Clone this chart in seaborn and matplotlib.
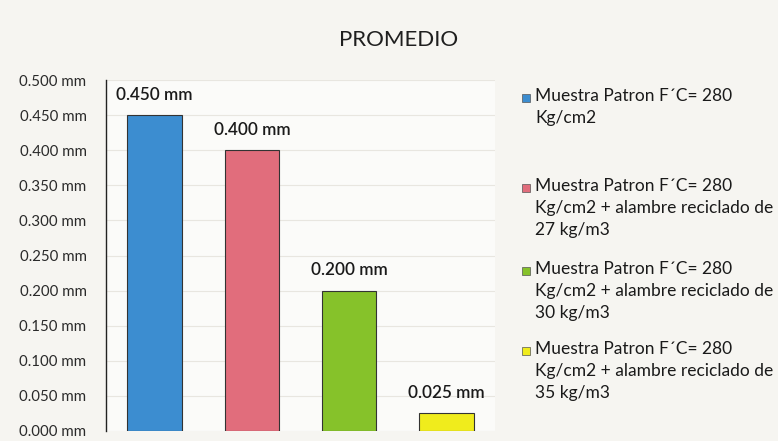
import matplotlib
matplotlib.use("Agg")
import matplotlib.pyplot as plt
import seaborn as sns
import pandas as pd
from matplotlib.patches import Rectangle

# Data
categories = ["Patron", "27 kg/m3", "30 kg/m3", "35 kg/m3"]
values = [0.450, 0.400, 0.200, 0.025]
series_labels = [
    "Muestra Patron F´C= 280\nKg/cm2",
    "Muestra Patron F´C= 280\nKg/cm2 + alambre reciclado de\n27 kg/m3",
    "Muestra Patron F´C= 280\nKg/cm2 + alambre reciclado de\n30 kg/m3",
    "Muestra Patron F´C= 280\nKg/cm2 + alambre reciclado de\n35 kg/m3",
]
colors = ["#3c8dd0", "#e16d7c", "#86c22a", "#f0ec1c"]
y_ticks = [0.0, 0.05, 0.10, 0.15, 0.20, 0.25, 0.30, 0.35, 0.40, 0.45, 0.50]

df = pd.DataFrame({"cat": categories, "val": values})

sns.set_theme(style="white")
plt.rcParams["font.family"] = ["Lato", "DejaVu Sans"]

W, H = 778, 441
fig = plt.figure(figsize=(W / 100, H / 100), dpi=100, facecolor="#f6f5f1")
ax = fig.add_axes([106 / W, 1 - 431 / H, (495 - 106) / W, (431 - 80) / H])
ax.set_facecolor("#fbfbf9")

sns.barplot(data=df, x="cat", y="val", hue="cat", palette=colors,
            saturation=1, width=0.56, edgecolor="#333333", linewidth=0.8,
            legend=False, ax=ax)

ax.set_ylim(0, 0.5)
ax.set_yticks(y_ticks)
ax.set_yticklabels([f"{t:.3f} mm" for t in y_ticks], fontsize=10.8, color="#2a2a2a")
ax.tick_params(axis="y", pad=14, length=0)
ax.set_xticks([])
ax.set_xlabel("")
ax.set_ylabel("")
ax.grid(axis="y", color="#e8e6e0", linewidth=0.8)
ax.set_axisbelow(True)
for s in ["top", "right", "bottom"]:
    ax.spines[s].set_visible(False)
ax.spines["left"].set_color("#222222")
ax.spines["left"].set_linewidth(1.0)

# value labels above each bar
for i, v in enumerate(values):
    ax.annotate(f"{v:.3f} mm", (i, v), xytext=(0, 9), textcoords="offset points",
                ha="center", va="bottom", fontsize=12.3, fontweight="semibold",
                color="#1a1a1a")

fig.text(399 / W, 1 - 40 / H, "PROMEDIO", ha="center", va="center",
         fontsize=16, color="#1f1f1f")

# legend drawn as square swatches with wrapped text
legend_tops = [88, 178, 261, 341]
for lab, col, top in zip(series_labels, colors, legend_tops):
    fig.patches.append(Rectangle((522 / W, 1 - (top + 14) / H), 8 / W, 8 / H,
                                 transform=fig.transFigure, facecolor=col,
                                 edgecolor="#555555", linewidth=0.5))
    fig.text(535 / W, 1 - top / H, lab, ha="left", va="top", fontsize=12.5,
             color="#1a1a1a", linespacing=1.45)

fig.savefig("out.png", dpi=100, facecolor=fig.get_facecolor())
